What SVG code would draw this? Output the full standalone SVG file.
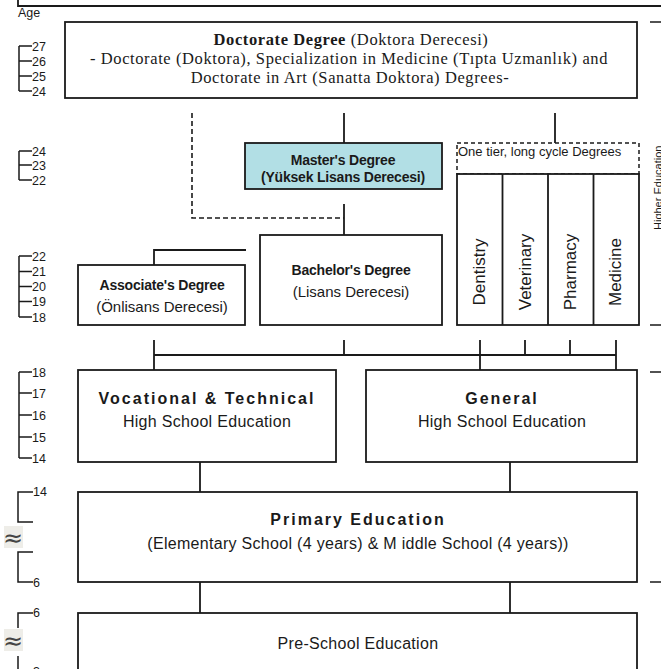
<svg xmlns="http://www.w3.org/2000/svg" width="661" height="669" viewBox="0 0 661 669">
<style>
.box{fill:#fff;stroke:#1a1a1a;stroke-width:1.8}
.ln{fill:none;stroke:#1a1a1a;stroke-width:1.8}
.dash{fill:none;stroke:#1a1a1a;stroke-width:1.6;stroke-dasharray:5 3}
.tk{fill:none;stroke:#1a1a1a;stroke-width:1.5}
.age{font-family:"Liberation Sans",Arial,sans-serif;font-size:12.5px;fill:#1a1a1a}
.serif{font-family:"Liberation Serif","Times New Roman",serif;font-size:16.5px;letter-spacing:0.6px;fill:#1a1a1a}
.sans{font-family:"Liberation Sans",Arial,sans-serif;fill:#1a1a1a}
.b14{font-size:14px;font-weight:bold;letter-spacing:-0.2px}
.r15{font-size:15px}
.big{font-size:16px;font-weight:bold;letter-spacing:2px}
.mid{font-size:16px;letter-spacing:0.3px}
.rot{font-size:17px}
.approx{font-family:"DejaVu Sans",sans-serif;font-size:24px;fill:#444}
</style>

<!-- header frame -->
<g id="header">
<path class="ln" d="M18,0 V6 H661"/>
<text class="age" x="18" y="17" font-size="13">Age</text>
</g>

<!-- age scales -->
<g id="age-scale">
<path class="tk" d="M19,46 V91 M19,46 H32 M19,61 H32 M19,76 H32 M19,91 H32"/>
<text class="age" x="32" y="50.5">27</text>
<text class="age" x="32" y="65.5">26</text>
<text class="age" x="32" y="80.5">25</text>
<text class="age" x="32" y="95.5">24</text>

<path class="tk" d="M19,151 V180 M19,151 H32 M19,165 H32 M19,180 H32"/>
<text class="age" x="32" y="155.5">24</text>
<text class="age" x="32" y="169.5">23</text>
<text class="age" x="32" y="184.5">22</text>

<path class="tk" d="M19,256 V317 M19,256 H32 M19,271.5 H32 M19,286.5 H32 M19,301.5 H32 M19,317 H32"/>
<text class="age" x="32" y="260.5">22</text>
<text class="age" x="32" y="276">21</text>
<text class="age" x="32" y="291">20</text>
<text class="age" x="32" y="306">19</text>
<text class="age" x="32" y="321.5">18</text>

<path class="tk" d="M19,372 V458 M19,372 H32 M19,393 H32 M19,415 H32 M19,437 H32 M19,458 H32"/>
<text class="age" x="32" y="376.5">18</text>
<text class="age" x="32" y="397.5">17</text>
<text class="age" x="32" y="419.5">16</text>
<text class="age" x="32" y="441.5">15</text>
<text class="age" x="32" y="462.5">14</text>

<path class="tk" d="M33,492 H18 V522 H33 M33,552 H18 V582 H33"/>
<text class="age" x="33" y="496" font-size="12">14</text>
<text class="age" x="33" y="587" font-size="12">6</text>
<rect x="4" y="526" width="19" height="22" fill="#eeede8"/>
<text class="approx" x="13" y="546" text-anchor="middle">≈</text>

<path class="tk" d="M33,613 H18 V628 M18,656 V669"/>
<text class="age" x="33" y="617" font-size="12">6</text>
<rect x="4" y="629" width="19" height="22" fill="#eeede8"/>
<text class="approx" x="13" y="649" text-anchor="middle">≈</text>
<text class="age" x="33" y="676" font-size="12">3</text>
</g>

<!-- right side ticks -->
<g id="right-scale">
<path class="tk" d="M650,22 H661 M650,325 H661 M650,372 H661 M650,582 H661"/>
<text class="sans" font-size="11" transform="translate(662,230) rotate(-90)">Higher Education</text>
</g>

<!-- connectors -->
<g id="connectors">
<path class="ln" d="M344,113 V143"/>
<path class="ln" d="M555,113 V143"/>
<path class="dash" d="M192,113 V218 H344"/>
<path class="ln" d="M344,204 V235"/>
<path class="ln" d="M154,265 V250 H246"/>
<path class="ln" d="M154,340 V370 M344,340 V355 M480,340 V370 M525,340 V355 M570,340 V355 M616,340 V370 M154,355 H616"/>
<path class="ln" d="M200,462 V492 M510,462 V492"/>
<path class="ln" d="M200,582 V613 M510,582 V613"/>
</g>

<!-- nodes -->
<g id="doctorate">
<rect class="box" x="65" y="22" width="572" height="76"/>
<text class="serif" x="351" y="44.5" text-anchor="middle"><tspan font-weight="bold">Doctorate Degree</tspan> (Doktora Derecesi)</text>
<text class="serif" x="349" y="63.5" text-anchor="middle">- Doctorate (Doktora), Specialization in Medicine (Tıpta Uzmanlık) and</text>
<text class="serif" x="350" y="82.5" text-anchor="middle">Doctorate in Art (Sanatta Doktora) Degrees-</text>
</g>

<g id="masters">
<rect class="box" x="245" y="143" width="197" height="46" style="fill:#b2dfe5"/>
<text class="sans b14" x="343" y="165" text-anchor="middle">Master's Degree</text>
<text class="sans b14" x="343" y="182" text-anchor="middle">(Yüksek Lisans Derecesi)</text>
</g>

<g id="one-tier">
<rect x="457" y="143" width="182" height="31" fill="none" stroke="#1a1a1a" stroke-width="1.5" stroke-dasharray="4 3"/>
<text class="sans" font-size="13" x="458" y="156">One tier, long cycle Degrees</text>
<rect class="box" x="457" y="174" width="182" height="151"/>
<path class="ln" d="M502.5,174 V325 M548,174 V325 M593.5,174 V325"/>
</g>
<g id="dentistry"><text class="sans rot" text-anchor="middle" transform="translate(485,272) rotate(-90)">Dentistry</text></g>
<g id="veterinary"><text class="sans rot" text-anchor="middle" transform="translate(530.5,272) rotate(-90)">Veterinary</text></g>
<g id="pharmacy"><text class="sans rot" text-anchor="middle" transform="translate(576,272) rotate(-90)">Pharmacy</text></g>
<g id="medicine"><text class="sans rot" text-anchor="middle" transform="translate(621,272) rotate(-90)">Medicine</text></g>

<g id="bachelors">
<rect class="box" x="260" y="235" width="182" height="90"/>
<text class="sans b14" x="351" y="275" text-anchor="middle">Bachelor's Degree</text>
<text class="sans r15" x="351" y="297" text-anchor="middle">(Lisans Derecesi)</text>
</g>

<g id="associates">
<rect class="box" x="78" y="265" width="167" height="60"/>
<text class="sans b14" x="162" y="290" text-anchor="middle">Associate's Degree</text>
<text class="sans r15" x="162" y="312" text-anchor="middle">(Önlisans Derecesi)</text>
</g>

<g id="vocational">
<rect class="box" x="78" y="370" width="258" height="92"/>
<text class="sans big" x="207" y="404" text-anchor="middle">Vocational &amp; Technical</text>
<text class="sans mid" x="207" y="427" text-anchor="middle">High School Education</text>
</g>

<g id="general">
<rect class="box" x="366" y="370" width="271" height="92"/>
<text class="sans big" x="502" y="404" text-anchor="middle">General</text>
<text class="sans mid" x="502" y="427" text-anchor="middle">High School Education</text>
</g>

<g id="primary">
<rect class="box" x="78" y="492" width="559" height="90"/>
<text class="sans big" x="358" y="525" text-anchor="middle">Primary Education</text>
<text class="sans mid" x="358" y="549" text-anchor="middle" letter-spacing="0.6">(Elementary School (4 years) &amp; M iddle School (4 years))</text>
</g>

<g id="preschool">
<rect class="box" x="78" y="613" width="559" height="70"/>
<text class="sans mid" x="358" y="649" text-anchor="middle">Pre-School Education</text>
</g>
</svg>
